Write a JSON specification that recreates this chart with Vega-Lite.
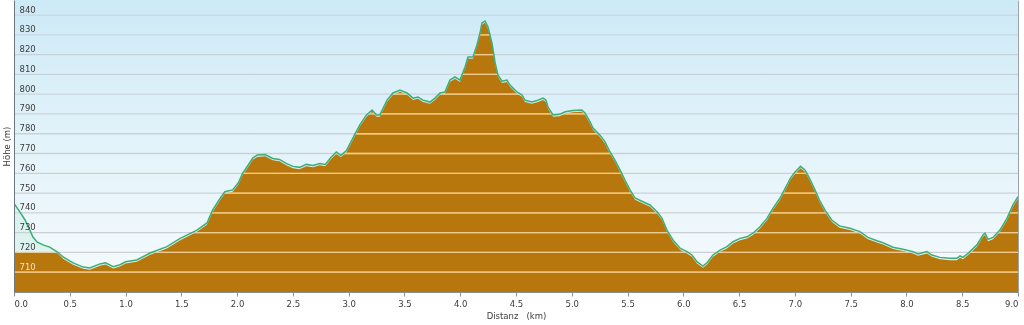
{
  "$schema": "https://vega.github.io/schema/vega-lite/v6.json",
  "width": 1004,
  "height": 292,
  "autosize": "none",
  "padding": {"left": 14, "top": 0, "right": 6, "bottom": 33},
  "background": "#ffffff",
  "config": {
    "view": {"stroke": null},
    "font": "DejaVu Sans"
  },
  "datasets": {
    "profile": [
      {"d":0.000,"h":744.8,"b":720.1},{"d":0.054,"h":740.4,"b":720.1},{"d":0.099,"h":736.4,"b":720.1},{"d":0.134,"h":732.3,"b":720.1},
      {"d":0.170,"h":727.8,"b":720.1},{"d":0.206,"h":725.3,"b":720.1},{"d":0.260,"h":723.8,"b":720.1},{"d":0.320,"h":722.7,"b":720.1},
      {"d":0.390,"h":720.2,"b":719.6},{"d":0.44,"h":717.7,"b":716.8},{"d":0.53,"h":714.7,"b":713.8},{"d":0.62,"h":712.6,"b":711.7},
      {"d":0.68,"h":712.1,"b":711.2},{"d":0.77,"h":714.2,"b":713.3},{"d":0.82,"h":714.8,"b":713.9},{"d":0.89,"h":712.8,"b":711.9},
      {"d":0.95,"h":713.8,"b":712.9},{"d":1.00,"h":715.3,"b":714.4},{"d":1.10,"h":716.2,"b":715.3},{"d":1.22,"h":719.7,"b":718.8},
      {"d":1.37,"h":722.9,"b":722.0},{"d":1.49,"h":727.1,"b":726.2},{"d":1.64,"h":731.3,"b":730.4},{"d":1.73,"h":734.9,"b":734.0},
      {"d":1.78,"h":741.4,"b":740.5},{"d":1.85,"h":747.5,"b":746.6},{"d":1.89,"h":750.7,"b":749.8},{"d":1.96,"h":751.6,"b":750.7},
      {"d":2.01,"h":755.1,"b":754.2},{"d":2.05,"h":760.1,"b":759.2},{"d":2.10,"h":764.2,"b":763.3},{"d":2.14,"h":767.7,"b":766.8},
      {"d":2.18,"h":769.2,"b":768.3},{"d":2.25,"h":769.5,"b":768.6},{"d":2.32,"h":767.5,"b":766.6},{"d":2.38,"h":767.0,"b":766.1},
      {"d":2.44,"h":765.0,"b":764.1},{"d":2.50,"h":763.5,"b":762.6},{"d":2.56,"h":763.0,"b":762.1},{"d":2.62,"h":764.5,"b":763.6},
      {"d":2.68,"h":764.0,"b":763.1},{"d":2.74,"h":765.0,"b":764.1},{"d":2.79,"h":764.5,"b":763.6},{"d":2.84,"h":768.0,"b":767.1},
      {"d":2.89,"h":770.8,"b":769.9},{"d":2.93,"h":769.0,"b":768.1},{"d":2.98,"h":771.5,"b":770.6},{"d":3.04,"h":778.0,"b":777.1},
      {"d":3.10,"h":784.5,"b":783.6},{"d":3.16,"h":789.5,"b":788.6},{"d":3.21,"h":792.0,"b":791.1},{"d":3.25,"h":789.5,"b":788.6},
      {"d":3.28,"h":789.5,"b":788.6},{"d":3.344,"h":797.0,"b":796.1},{"d":3.397,"h":800.6,"b":799.7},{"d":3.46,"h":802.1,"b":801.2},
      {"d":3.523,"h":800.6,"b":799.7},{"d":3.577,"h":798.0,"b":797.1},{"d":3.621,"h":798.6,"b":797.7},{"d":3.666,"h":797.0,"b":796.1},
      {"d":3.729,"h":796.0,"b":795.1},{"d":3.774,"h":798.0,"b":797.1},{"d":3.819,"h":800.6,"b":799.7},{"d":3.863,"h":801.1,"b":800.2},
      {"d":3.908,"h":807.1,"b":806.2},{"d":3.953,"h":808.7,"b":807.8},{"d":3.998,"h":807.1,"b":806.2},{"d":4.043,"h":813.7,"b":812.8},
      {"d":4.070,"h":818.8,"b":817.9},{"d":4.114,"h":818.8,"b":817.9},{"d":4.150,"h":824.8,"b":823.9},{"d":4.177,"h":830.9,"b":830.0},
      {"d":4.195,"h":836.0,"b":835.1},{"d":4.222,"h":837.0,"b":836.1},{"d":4.249,"h":833.9,"b":833.0},{"d":4.285,"h":825.8,"b":824.9},
      {"d":4.312,"h":816.2,"b":815.3},{"d":4.338,"h":809.7,"b":808.8},{"d":4.374,"h":806.6,"b":805.7},{"d":4.419,"h":807.1,"b":806.2},
      {"d":4.446,"h":804.6,"b":803.7},{"d":4.509,"h":801.1,"b":800.2},{"d":4.554,"h":799.6,"b":798.7},{"d":4.580,"h":797.0,"b":796.1},
      {"d":4.643,"h":796.0,"b":795.1},{"d":4.697,"h":797.0,"b":796.1},{"d":4.742,"h":798.0,"b":797.1},{"d":4.769,"h":797.0,"b":796.1},
      {"d":4.787,"h":793.5,"b":792.6},{"d":4.832,"h":789.5,"b":788.6},{"d":4.89,"h":789.8,"b":788.9},{"d":4.94,"h":791.1,"b":790.2},
      {"d":5.01,"h":791.8,"b":790.9},{"d":5.09,"h":792.0,"b":791.1},{"d":5.118,"h":790.5,"b":789.6},{"d":5.163,"h":786.1,"b":785.2},
      {"d":5.190,"h":782.9,"b":782.0},{"d":5.253,"h":779.3,"b":778.4},{"d":5.297,"h":776.0,"b":775.1},{"d":5.342,"h":770.9,"b":770.0},
      {"d":5.387,"h":766.7,"b":765.8},{"d":5.432,"h":761.7,"b":760.8},{"d":5.477,"h":756.6,"b":755.7},{"d":5.522,"h":751.6,"b":750.7},
      {"d":5.567,"h":747.5,"b":746.6},{"d":5.638,"h":745.6,"b":744.7},{"d":5.701,"h":744.0,"b":743.1},{"d":5.764,"h":740.6,"b":739.7},
      {"d":5.808,"h":737.4,"b":736.5},{"d":5.853,"h":731.3,"b":730.4},{"d":5.907,"h":726.3,"b":725.4},{"d":5.970,"h":722.2,"b":721.3},
      {"d":6.033,"h":720.4,"b":719.5},{"d":6.077,"h":718.7,"b":717.8},{"d":6.122,"h":715.3,"b":714.4},{"d":6.176,"h":713.1,"b":712.2},
      {"d":6.212,"h":714.8,"b":713.9},{"d":6.266,"h":718.7,"b":717.8},{"d":6.329,"h":721.2,"b":720.3},{"d":6.391,"h":722.9,"b":722.0},
      {"d":6.445,"h":725.4,"b":724.5},{"d":6.508,"h":727.1,"b":726.2},{"d":6.571,"h":727.9,"b":727.0},{"d":6.624,"h":729.7,"b":728.8},
      {"d":6.687,"h":733.0,"b":732.1},{"d":6.750,"h":737.2,"b":736.3},{"d":6.803,"h":742.3,"b":741.4},{"d":6.866,"h":747.4,"b":746.5},
      {"d":6.929,"h":754.1,"b":753.2},{"d":6.96,"h":757.6,"b":756.7},{"d":7.00,"h":760.6,"b":759.7},{"d":7.05,"h":763.5,"b":762.6},
      {"d":7.09,"h":761.7,"b":760.8},{"d":7.13,"h":757.6,"b":756.7},{"d":7.18,"h":751.6,"b":750.7},{"d":7.22,"h":746.5,"b":745.6},
      {"d":7.27,"h":741.4,"b":740.5},{"d":7.33,"h":736.4,"b":735.5},{"d":7.40,"h":733.4,"b":732.5},{"d":7.494,"h":732.2,"b":731.3},
      {"d":7.583,"h":730.5,"b":729.6},{"d":7.655,"h":727.6,"b":726.7},{"d":7.736,"h":725.9,"b":725.0},{"d":7.790,"h":724.9,"b":724.0},
      {"d":7.880,"h":722.6,"b":721.7},{"d":7.969,"h":721.6,"b":720.7},{"d":8.059,"h":720.4,"b":719.5},{"d":8.103,"h":719.2,"b":718.3},
      {"d":8.184,"h":720.4,"b":719.5},{"d":8.229,"h":718.7,"b":717.8},{"d":8.300,"h":717.5,"b":716.6},{"d":8.390,"h":717.0,"b":716.1},
      {"d":8.453,"h":717.0,"b":716.1},{"d":8.480,"h":718.2,"b":717.3},{"d":8.507,"h":717.5,"b":716.6},{"d":8.552,"h":719.6,"b":718.7},
      {"d":8.632,"h":723.8,"b":722.9},{"d":8.686,"h":728.8,"b":727.9},{"d":8.704,"h":729.7,"b":728.8},{"d":8.731,"h":726.6,"b":725.7},
      {"d":8.776,"h":727.6,"b":726.7},{"d":8.838,"h":731.3,"b":730.4},{"d":8.901,"h":737.2,"b":736.3},{"d":8.955,"h":744.0,"b":743.1},
      {"d":9.000,"h":748.2,"b":747.3}
    ],
    "grid": [
      {"g":710},{"g":720},{"g":730},{"g":740},{"g":750},{"g":760},{"g":770},
      {"g":780},{"g":790},{"g":800},{"g":810},{"g":820},{"g":830},{"g":840}
    ],
    "frame": [{"x0":0,"x1":9,"y0":700,"y1":847.6}]
  },
  "resolve": {"axis": {"y": "independent", "x": "independent"}},
  "layer": [
    {
      "data": {"name": "frame"},
      "mark": {
        "type": "rect",
        "color": {"gradient": "linear", "x1": 0, "y1": 0, "x2": 0, "y2": 1,
          "stops": [{"offset": 0, "color": "#cdeaf7"}, {"offset": 0.5, "color": "#e3f3fa"}, {"offset": 1, "color": "#f6fbfd"}]}
      },
      "encoding": {
        "x": {"field": "x0", "type": "quantitative", "scale": {"domain": [0, 9], "nice": false, "zero": false}, "axis": null},
        "x2": {"field": "x1"},
        "y": {"field": "y0", "type": "quantitative", "scale": {"domain": [700, 847.6], "nice": false, "zero": false}, "axis": null},
        "y2": {"field": "y1"}
      }
    },
    {
      "data": {"name": "profile"},
      "mark": {"type": "area", "color": "#5fcf9c", "opacity": 0.12, "clip": true},
      "encoding": {
        "x": {"field": "d", "type": "quantitative", "axis": null},
        "y": {"field": "h", "type": "quantitative", "axis": null},
        "y2": {"datum": 700}
      }
    },
    {
      "data": {"name": "profile"},
      "mark": {"type": "area", "color": "#b8770c", "opacity": 1, "clip": true},
      "encoding": {
        "x": {"field": "d", "type": "quantitative", "axis": null},
        "y": {"field": "b", "type": "quantitative", "axis": null},
        "y2": {"datum": 700}
      }
    },
    {
      "data": {"name": "grid"},
      "mark": {"type": "rule", "color": "#ffffff", "opacity": 0.45, "strokeWidth": 1.3},
      "encoding": {
        "y": {"field": "g", "type": "quantitative", "axis": null}
      }
    },
    {
      "data": {"name": "grid"},
      "mark": {"type": "rule", "color": "#cfcfcf", "strokeWidth": 1.3, "blend": "luminosity"},
      "encoding": {
        "y": {"field": "g", "type": "quantitative",
          "axis": {"orient": "right", "labels": false, "ticks": false, "title": null, "grid": false, "domain": true, "domainColor": "#9aa4aa", "zindex": 1}}
      }
    },
    {
      "data": {"name": "profile"},
      "mark": {"type": "line", "color": "#3aaf78", "strokeWidth": 1.5, "clip": true},
      "encoding": {
        "x": {"field": "d", "type": "quantitative",
          "axis": {"values": [0,0.5,1,1.5,2,2.5,3,3.5,4,4.5,5,5.5,6,6.5,7,7.5,8,8.5,9],
            "format": ".1f", "grid": false, "labelFlush": true, "labelFontSize": 8.5, "labelColor": "#3c3c3c",
            "labelPadding": 3, "tickSize": 4, "tickColor": "#8a8f94", "domainColor": "#8a8f94", "labelOverlap": false,
            "title": "Distanz\u00a0\u00a0\u00a0(km)", "titleFontSize": 8.5, "titleFontWeight": "normal", "titleColor": "#3c3c3c", "titlePadding": 4, "zindex": 1}},
        "y": {"field": "h", "type": "quantitative",
          "axis": {"values": [710,720,730,740,750,760,770,780,790,800,810,820,830,840],
            "grid": false, "ticks": false, "tickSize": 0, "labelAlign": "left", "labelBaseline": "alphabetic",
            "labelPadding": -5, "labelOffset": -3, "labelFontSize": 8.5,
            "labelColor": {"condition": {"test": "datum.value < 715", "value": "#f3e4c4"}, "value": "#3c3c3c"},
            "domainColor": "#6f777c", "labelOverlap": false,
            "title": "Höhe (m)", "titleFontSize": 8.5, "titleFontWeight": "normal", "titleColor": "#3c3c3c",
            "titleX": -8, "titleY": 146, "titleAngle": -90, "titleAlign": "center", "titleBaseline": "middle", "zindex": 1}}
      }
    }
  ]
}
